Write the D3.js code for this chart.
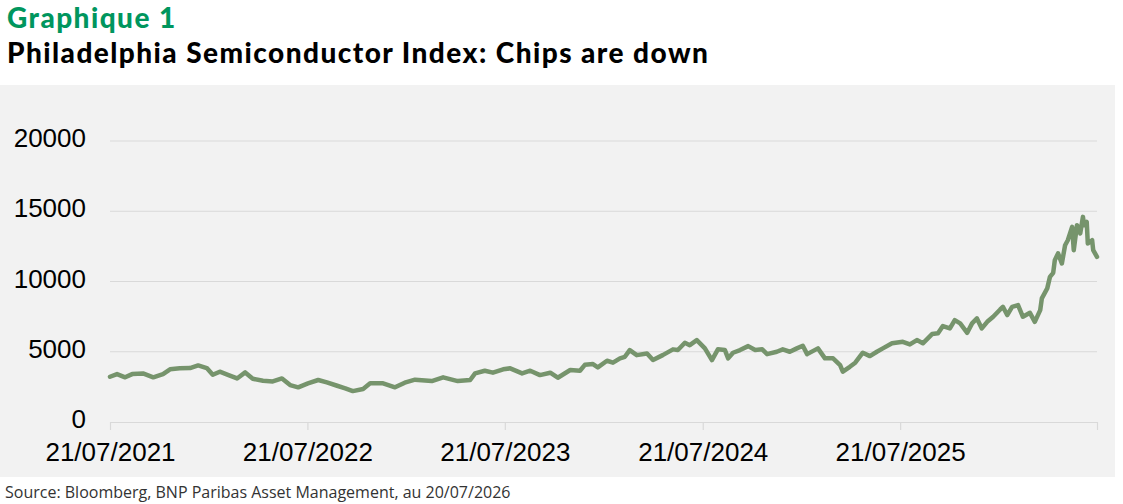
<!DOCTYPE html>
<html>
<head>
<meta charset="utf-8">
<script src="https://cdn.jsdelivr.net/npm/d3@7"></script>
<style>
  html, body { margin: 0; padding: 0; background: #ffffff; }
  svg { display: block; }
</style>
</head>
<body>
<svg id="chart" width="1123" height="504"></svg>
<script>
const chartLabel = "Graphique 1";
const chartTitle = "Philadelphia Semiconductor Index: Chips are down";
const sourceText = "Source: Bloomberg, BNP Paribas Asset Management, au 20/07/2026";

const dates = [
  "2021-07-21","2021-08-03","2021-08-18","2021-08-31","2021-09-20","2021-10-09","2021-10-27","2021-11-09","2021-11-27","2021-12-16",
  "2021-12-31","2022-01-16","2022-01-27","2022-02-09","2022-02-24","2022-03-13","2022-03-28","2022-04-11","2022-04-30","2022-05-18",
  "2022-06-04","2022-06-19","2022-07-04","2022-07-22","2022-08-10","2022-08-26","2022-09-14","2022-09-29","2022-10-13","2022-11-01",
  "2022-11-14","2022-12-08","2022-12-30","2023-01-17","2023-02-05","2023-03-08","2023-03-29","2023-04-25","2023-05-18","2023-05-27",
  "2023-06-14","2023-06-29","2023-07-18","2023-07-31","2023-08-22","2023-09-06","2023-09-24","2023-10-13","2023-10-27","2023-11-19",
  "2023-12-07","2023-12-16","2023-12-31","2024-01-09","2024-01-26","2024-02-06","2024-02-19","2024-02-28","2024-03-08","2024-03-21",
  "2024-04-09","2024-04-20","2024-05-08","2024-05-27","2024-06-05","2024-06-18","2024-06-27","2024-07-10","2024-07-25","2024-08-07",
  "2024-08-18","2024-08-31","2024-09-06","2024-09-15","2024-09-28","2024-10-13","2024-10-26","2024-11-08","2024-11-17","2024-12-05",
  "2024-12-16","2024-12-29","2025-01-11","2025-01-22","2025-01-30","2025-02-19","2025-03-04","2025-03-19","2025-04-01","2025-04-06",
  "2025-04-19","2025-04-29","2025-05-13","2025-05-26","2025-06-08","2025-06-19","2025-07-06","2025-07-26","2025-08-08","2025-08-21",
  "2025-09-01","2025-09-18","2025-09-29","2025-10-08","2025-10-21","2025-10-30","2025-11-09","2025-11-22","2025-12-01","2025-12-10",
  "2025-12-19","2025-12-29","2026-01-09","2026-01-22","2026-01-27","2026-02-04","2026-02-13","2026-02-24","2026-03-05","2026-03-18",
  "2026-03-27","2026-04-06","2026-04-09","2026-04-19","2026-04-24","2026-04-30","2026-05-03","2026-05-09","2026-05-16","2026-05-22",
  "2026-05-27","2026-06-04","2026-06-07","2026-06-13","2026-06-19","2026-06-24","2026-06-26","2026-07-01","2026-07-03","2026-07-11",
  "2026-07-13","2026-07-20"
];

const sox = [
  3220,3410,3180,3410,3460,3180,3410,3750,3820,3840,
  4030,3840,3360,3580,3360,3100,3530,3080,2940,2890,
  3100,2630,2470,2750,2990,2820,2580,2400,2200,2350,
  2750,2750,2470,2800,3010,2910,3180,2910,2990,3460,
  3650,3510,3750,3820,3460,3650,3340,3510,3150,3700,
  3650,4070,4120,3890,4360,4220,4530,4640,5120,4760,
  4880,4410,4760,5170,5120,5640,5470,5830,5240,4410,
  5170,5120,4530,4930,5120,5400,5120,5170,4830,5000,
  5170,5000,5240,5430,4830,5240,4530,4530,4050,3580,
  3930,4220,4930,4690,5000,5240,5600,5710,5520,5830,
  5600,6260,6310,6830,6660,7250,7020,6350,7020,7370,
  6660,7130,7490,8010,8200,7610,8200,8320,7490,7770,
  7130,7960,8800,9510,10330,10620,11520,12000,11280,12580,
  12940,13890,12230,14010,13420,14600,14010,14240,12700,12940,
  12230,11750
];

const yTicks = [0, 5000, 10000, 15000, 20000];
const xTickDates = ["2021-07-21","2022-07-21","2023-07-21","2024-07-21","2025-07-21","2026-07-20"];
const xTickLabels = ["21/07/2021","21/07/2022","21/07/2023","21/07/2024","21/07/2025",""];

const parse = d3.utcParse("%Y-%m-%d");
const data = dates.map((d, i) => ({ date: parse(d), value: sox[i] }));

const svg = d3.select("#chart");
const plot = { left: 110, right: 1097, top: 141, bottom: 422 };

// panel background
svg.append("rect")
  .attr("x", 0).attr("y", 85)
  .attr("width", 1115).attr("height", 392)
  .attr("fill", "#f2f2f2");

// titles
const titleFont = "Lato, 'Open Sans', sans-serif";
svg.append("text")
  .attr("x", 7).attr("y", 28)
  .attr("font-family", titleFont)
  .attr("font-weight", 900)
  .attr("font-size", 28)
  .attr("letter-spacing", 1.45)
  .attr("fill", "#00965e")
  .text(chartLabel);

svg.append("text")
  .attr("x", 7).attr("y", 63)
  .attr("font-family", titleFont)
  .attr("font-weight", 900)
  .attr("font-size", 28)
  .attr("letter-spacing", 1.45)
  .attr("fill", "#000000")
  .text(chartTitle);

const x = d3.scaleUtc()
  .domain([parse(xTickDates[0]), parse(xTickDates[xTickDates.length - 1])])
  .range([plot.left, plot.right]);

const y = d3.scaleLinear()
  .domain([0, 20000])
  .range([plot.bottom, plot.top]);

// grid lines
svg.append("g")
  .selectAll("line")
  .data(yTicks.filter(t => t > 0))
  .join("line")
  .attr("x1", plot.left).attr("x2", plot.right)
  .attr("y1", d => y(d)).attr("y2", d => y(d))
  .attr("stroke", "#d9d9d9")
  .attr("stroke-width", 1.2);

// y axis labels
const yAxis = d3.axisLeft(y).tickValues(yTicks).tickSize(0).tickPadding(0).tickFormat(d3.format("d"));
const yg = svg.append("g").attr("transform", `translate(86,0)`).call(yAxis);
yg.select(".domain").remove();
yg.selectAll("text")
  .attr("font-family", "'Liberation Sans', Arial, sans-serif")
  .attr("font-size", 26)
  .attr("fill", "#000")
  .attr("dy", "0.22em");

// x axis
const xAxis = d3.axisBottom(x)
  .tickValues(xTickDates.map(parse))
  .tickSize(8)
  .tickPadding(13)
  .tickFormat((d, i) => xTickLabels[i]);
const xg = svg.append("g").attr("transform", `translate(0,${plot.bottom})`).call(xAxis);
xg.select(".domain").attr("stroke", "#d9d9d9").attr("stroke-width", 1.2).attr("d", `M${plot.left},0.5H${plot.right}`);
xg.selectAll(".tick line").attr("stroke", "#d9d9d9").attr("stroke-width", 1.2);
xg.selectAll("text")
  .attr("font-family", "'Liberation Sans', Arial, sans-serif")
  .attr("font-size", 26)
  .attr("fill", "#000");

// line
const line = d3.line()
  .x(d => x(d.date))
  .y(d => y(d.value));

svg.append("path")
  .datum(data)
  .attr("d", line)
  .attr("fill", "none")
  .attr("stroke", "#76946c")
  .attr("stroke-width", 4.5)
  .attr("stroke-linejoin", "round")
  .attr("stroke-linecap", "round");

// source
svg.append("text")
  .attr("x", 5).attr("y", 498)
  .attr("font-family", "'Open Sans', 'Liberation Sans', sans-serif")
  .attr("font-size", 16)
  .attr("fill", "#333333")
  .text(sourceText);
</script>
</body>
</html>
